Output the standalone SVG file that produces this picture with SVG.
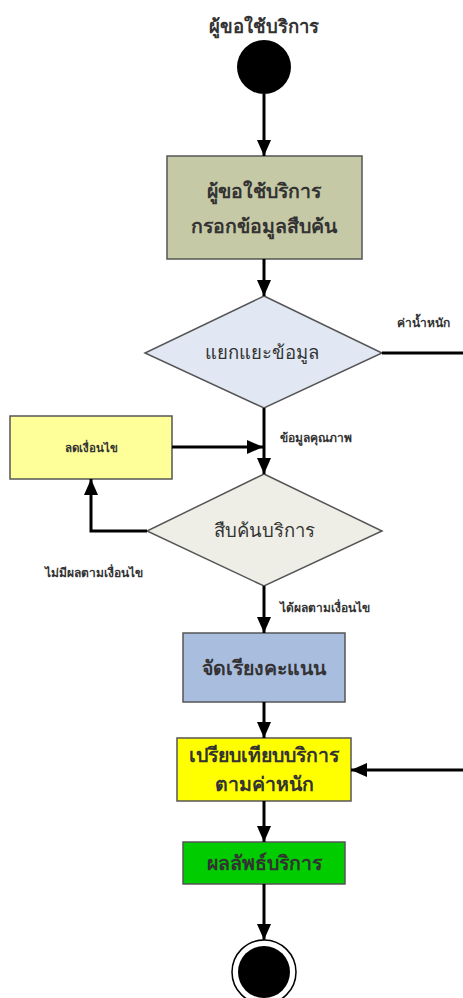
<svg xmlns="http://www.w3.org/2000/svg" width="463" height="998" viewBox="0 0 463 998">
<defs>
<marker id="ah" markerWidth="16" markerHeight="14" refX="16" refY="7" orient="auto" markerUnits="userSpaceOnUse">
<path d="M0,0 L16,7 L0,14 Z" fill="#000"/>
</marker>
<style>
text{font-family:"Noto Sans","DejaVu Sans",sans-serif;fill:#333;text-anchor:middle}
.t{font-weight:bold;font-size:18.5px}
.b{font-weight:bold;font-size:19.5px}
.d{font-size:18.5px}
.l{font-weight:bold;font-size:12px;text-anchor:start}
.box{stroke:#555;stroke-width:1.5}
.c{stroke:#000;stroke-width:3;fill:none}
</style>
</defs>
<rect width="463" height="998" fill="#fff"/>
<g id="start">
<text class="t" x="264" y="33">ผู้ขอใช้บริการ</text>
<circle cx="264" cy="67" r="27" fill="#000"/>
</g>
<g id="input">
<rect class="box" x="167" y="156" width="195" height="103" fill="#c6c9a5"/>
<text class="b" x="264" y="198">ผู้ขอใช้บริการ</text>
<text class="b" x="264" y="233">กรอกข้อมูลสืบค้น</text>
</g>
<g id="classify">
<polygon class="box" points="264,296 382,353 264,408 145,353" fill="#e1e8f4"/>
<text class="d" x="262" y="359">แยกแยะข้อมูล</text>
</g>
<g id="relax">
<rect class="box" x="10" y="416" width="162" height="63" fill="#ffff99"/>
<text x="91" y="452" style="font-weight:bold;font-size:11.5px">ลดเงื่อนไข</text>
</g>
<g id="search">
<polygon class="box" points="264,474 382,531 264,586 147,531" fill="#eeeee6"/>
<text class="d" x="264" y="537">สืบค้นบริการ</text>
</g>
<g id="rank">
<rect class="box" x="183" y="633" width="162" height="69" fill="#a9bddf"/>
<text class="b" x="264" y="675">จัดเรียงคะแนน</text>
</g>
<g id="compare">
<rect class="box" x="177" y="738" width="174" height="63" fill="#ffff00"/>
<text class="b" x="264" y="762">เปรียบเทียบบริการ</text>
<text class="b" x="264" y="791">ตามค่าหนัก</text>
</g>
<g id="result">
<rect class="box" x="183" y="842" width="162" height="42" fill="#00cc00"/>
<text class="b" x="264" y="870">ผลลัพธ์บริการ</text>
</g>
<g id="end">
<circle cx="264" cy="972" r="32" fill="#fff" stroke="#000" stroke-width="1.5"/>
<circle cx="264" cy="972" r="26" fill="#000"/>
</g>
<g id="connectors">
<line class="c" x1="264" y1="94" x2="264" y2="156" marker-end="url(#ah)"/>
<line class="c" x1="264" y1="259" x2="264" y2="296" marker-end="url(#ah)"/>
<line class="c" x1="382" y1="353" x2="463" y2="353"/>
<line class="c" x1="264" y1="408" x2="264" y2="474" marker-end="url(#ah)"/>
<line class="c" x1="172" y1="447" x2="263" y2="447" marker-end="url(#ah)"/>
<polyline class="c" points="147,531 91,531 91,479" marker-end="url(#ah)"/>
<line class="c" x1="264" y1="586" x2="264" y2="633" marker-end="url(#ah)"/>
<line class="c" x1="264" y1="702" x2="264" y2="738" marker-end="url(#ah)"/>
<line class="c" x1="463" y1="770" x2="351" y2="770" marker-end="url(#ah)"/>
<line class="c" x1="264" y1="801" x2="264" y2="842" marker-end="url(#ah)"/>
<line class="c" x1="264" y1="884" x2="264" y2="940" marker-end="url(#ah)"/>
<text class="l" x="397" y="327">ค่าน้ำหนัก</text>
<text class="l" x="280" y="442">ข้อมูลคุณภาพ</text>
<text class="l" x="45" y="577">ไม่มีผลตามเงื่อนไข</text>
<text class="l" x="280" y="612">ได้ผลตามเงื่อนไข</text>
</g>
</svg>
